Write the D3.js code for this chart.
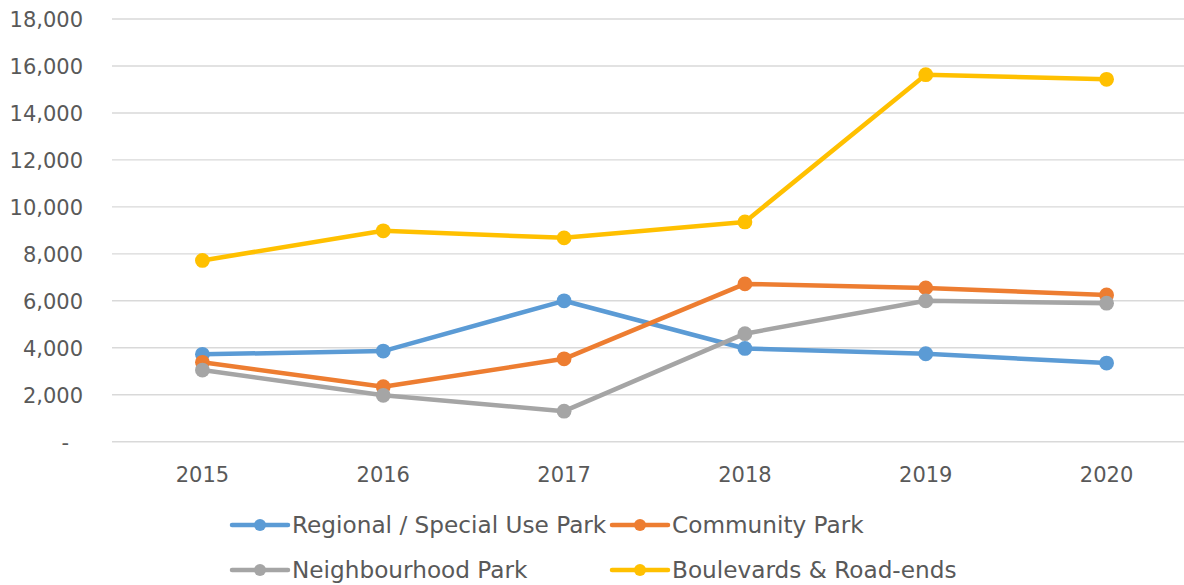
<!DOCTYPE html>
<html>
<head>
<meta charset="utf-8">
<script src="https://cdn.jsdelivr.net/npm/d3@7"></script>
<style>
  html, body { margin: 0; padding: 0; background: #ffffff; }
  svg { display: block; font-family: "DejaVu Sans", sans-serif; }
</style>
</head>
<body>
<svg id="chart" width="1184" height="585"></svg>
<script>
// Park counts by year and type
const years = ["2015", "2016", "2017", "2018", "2019", "2020"];
const regional = [3720, 3860, 6000, 3970, 3745, 3350];
const community = [3380, 2340, 3530, 6720, 6550, 6250];
const neighbourhood = [3050, 1975, 1300, 4600, 6000, 5900];
const boulevards = [7720, 8980, 8680, 9360, 15630, 15430];
const seriesNames = ["Regional / Special Use Park", "Community Park", "Neighbourhood Park", "Boulevards & Road-ends"];
const seriesColors = ["#5B9BD5", "#ED7D31", "#A5A5A5", "#FFC000"];
const yTicks = [0, 2000, 4000, 6000, 8000, 10000, 12000, 14000, 16000, 18000];
const yTickLabels = ["-", "2,000", "4,000", "6,000", "8,000", "10,000", "12,000", "14,000", "16,000", "18,000"];

const series = [regional, community, neighbourhood, boulevards].map((vals, i) => ({
  name: seriesNames[i],
  color: seriesColors[i],
  values: vals.map((v, j) => ({ year: years[j], value: v }))
}));

const svg = d3.select("#chart");
const textColor = "#595959";

const x = d3.scaleBand().domain(years).range([112, 1197]).padding(0);
const y = d3.scaleLinear().domain([0, 18000]).range([441.7, 19]);
const cx = d => x(d) + x.bandwidth() / 2;

// horizontal gridlines
svg.append("g")
  .selectAll("line")
  .data(yTicks)
  .join("line")
  .attr("x1", 112).attr("x2", 1197)
  .attr("y1", d => y(d)).attr("y2", d => y(d))
  .attr("stroke", "#d9d9d9").attr("stroke-width", 1.4);

// y axis labels
const yAxis = d3.axisLeft(y)
  .tickValues(yTicks)
  .tickFormat((d, i) => yTickLabels[i])
  .tickSize(0)
  .tickPadding(0);
const gy = svg.append("g").attr("transform", "translate(83,0)").call(yAxis);
gy.select(".domain").remove();
gy.selectAll("text")
  .attr("font-family", "DejaVu Sans, sans-serif")
  .attr("font-size", 21)
  .attr("fill", textColor)
  .attr("dy", "0.36em")
  .attr("dx", (d, i) => yTickLabels[i] === "-" ? -14 : 0);

// x axis labels
const xAxis = d3.axisBottom(x).tickSize(0).tickPadding(0);
const gx = svg.append("g").attr("transform", "translate(0,441.7)").call(xAxis);
gx.select(".domain").remove();
gx.selectAll("text")
  .attr("font-family", "DejaVu Sans, sans-serif")
  .attr("font-size", 21)
  .attr("fill", textColor)
  .attr("dy", null)
  .attr("y", 40);

// series lines and markers
const line = d3.line().x(d => cx(d.year)).y(d => y(d.value));
series.forEach(s => {
  const g = svg.append("g");
  g.append("path")
    .datum(s.values)
    .attr("d", line)
    .attr("fill", "none")
    .attr("stroke", s.color)
    .attr("stroke-width", 4.5)
    .attr("stroke-linejoin", "round");
  g.selectAll("circle")
    .data(s.values)
    .join("circle")
    .attr("cx", d => cx(d.year))
    .attr("cy", d => y(d.value))
    .attr("r", 7.4)
    .attr("fill", s.color);
});

// legend, two columns by two rows
const legendPos = [[232, 525], [612, 525], [232, 570], [612, 570]];
const legend = svg.append("g")
  .selectAll("g")
  .data(series)
  .join("g")
  .attr("transform", (d, i) => `translate(${legendPos[i][0]},${legendPos[i][1]})`);
legend.append("line")
  .attr("x1", 0).attr("x2", 56)
  .attr("y1", 0).attr("y2", 0)
  .attr("stroke", d => d.color)
  .attr("stroke-width", 4.5)
  .attr("stroke-linecap", "round");
legend.append("circle")
  .attr("cx", 28).attr("cy", 0).attr("r", 6)
  .attr("fill", d => d.color);
legend.append("text")
  .attr("x", 60).attr("y", 0)
  .attr("dy", "0.36em")
  .attr("font-size", 23.2)
  .attr("fill", textColor)
  .text(d => d.name);
</script>
</body>
</html>
